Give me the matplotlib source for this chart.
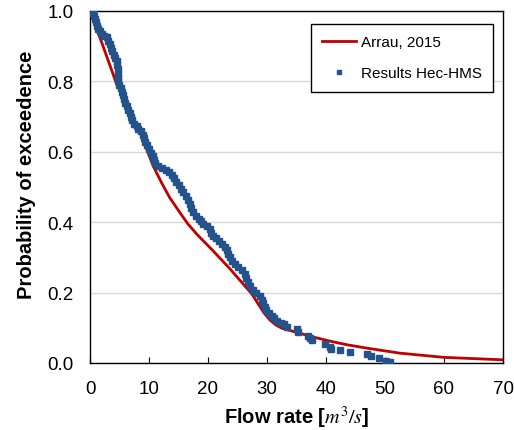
import matplotlib
matplotlib.use("Agg")
import matplotlib.pyplot as plt

# Arrau, 2015 curve
arrau_q = [0.0, 2.0, 4.35, 6.8, 8.5, 9.6, 10.7, 12.1, 13.5, 15.0, 16.6, 18.1, 20.9, 23.7, 26.5,
           27.4, 28.5, 29.5, 30.5, 31.5, 32.5, 35.0, 37.8, 40.7, 43.5, 47.0, 52.5, 60.0, 70.0]
arrau_p = [1.0, 0.91, 0.8, 0.712, 0.655, 0.608, 0.56, 0.513, 0.47, 0.433, 0.395, 0.366, 0.318,
           0.268, 0.214, 0.197, 0.168, 0.142, 0.122, 0.108, 0.099, 0.087, 0.074, 0.062, 0.052,
           0.042, 0.028, 0.016, 0.009]

# Results Hec-HMS
hms_q = [0.3, 0.5, 0.7, 0.85, 1.0, 1.2, 1.4, 1.7, 2.0, 2.4, 2.8, 3.1, 3.4, 3.6, 3.8, 4.0,
         4.3, 4.5, 4.6, 4.7, 4.8, 4.8, 4.8, 4.9, 5.2, 5.4, 5.6, 5.8, 6.0, 6.2, 6.4, 6.7,
         7.0, 7.2, 7.5, 7.9, 8.2, 8.7, 9.0, 9.2, 9.4, 9.7, 10.0, 10.3, 10.6, 10.8, 11.0,
         11.6, 12.2, 12.8, 13.4, 13.9, 14.3, 14.6, 15.0, 15.4, 15.8, 16.3, 16.6, 16.9,
         17.2, 17.5, 17.9, 18.4, 18.8, 19.2, 19.8, 20.3, 20.5, 20.8, 21.3, 21.8, 22.3,
         22.8, 23.2, 23.4, 23.7, 24.1, 24.6, 25.1, 25.7, 26.3, 26.5, 26.8, 27.2, 27.7,
         28.2, 28.8, 29.1, 29.4, 29.6, 29.9, 30.3, 30.8, 31.2, 31.7, 32.3, 32.8, 33.4,
         35.0, 35.3, 37.0, 37.3, 37.7, 39.8, 40.6, 40.8, 42.4, 44.1, 46.9, 47.7, 49.0,
         50.2, 50.8]
hms_p = [1.0, 0.993, 0.985, 0.977, 0.968, 0.958, 0.949, 0.942, 0.935, 0.93, 0.925, 0.916,
         0.906, 0.895, 0.885, 0.875, 0.866, 0.857, 0.846, 0.835, 0.822, 0.81, 0.8, 0.79,
         0.78, 0.77, 0.76, 0.75, 0.74, 0.73, 0.72, 0.71, 0.7, 0.69, 0.68, 0.672, 0.665,
         0.658, 0.648, 0.638, 0.628, 0.618, 0.608, 0.598, 0.588, 0.578, 0.568, 0.56,
         0.553, 0.548, 0.542, 0.535, 0.525, 0.515, 0.505, 0.495, 0.485, 0.475, 0.463,
         0.452, 0.44, 0.428, 0.418, 0.409, 0.402, 0.395, 0.388, 0.38, 0.37, 0.362, 0.355,
         0.348, 0.338, 0.33, 0.32, 0.31, 0.3, 0.29, 0.281, 0.272, 0.263, 0.253, 0.242,
         0.23, 0.218, 0.206, 0.198, 0.19, 0.18, 0.17, 0.16, 0.15, 0.142, 0.134, 0.127,
         0.12, 0.115, 0.11, 0.103, 0.097, 0.088, 0.078, 0.072, 0.064, 0.054, 0.045, 0.04,
         0.037, 0.03, 0.026, 0.019, 0.013, 0.007, 0.002]

x_ticks = [0, 10, 20, 30, 40, 50, 60, 70]
y_ticks = [0.0, 0.2, 0.4, 0.6, 0.8, 1.0]

plt.rcParams['font.family'] = ['Liberation Sans', 'DejaVu Sans']
plt.rcParams['mathtext.fontset'] = 'stix'

fig = plt.figure(figsize=(5.14, 4.31), dpi=100)
ax = fig.add_axes([90/514, 1 - 364/431, 413/514, 352/431])

ax.plot(arrau_q, arrau_p, color='#C00000', lw=2.0, label='Arrau, 2015', zorder=2)
ax.plot(hms_q, hms_p, ls='none', marker='s', ms=4.2, color='#24528A',
        label='Results Hec-HMS', zorder=3)

ax.set_xlim(0, 70)
ax.set_ylim(0, 1.0)
ax.set_xticks(x_ticks)
ax.set_yticks(y_ticks)
ax.set_yticklabels([f'{v:.1f}' for v in y_ticks])
ax.yaxis.grid(True, color='#D9D9D9', lw=1.0)
ax.set_axisbelow(True)
ax.tick_params(axis='x', direction='in', length=4, width=0.8, pad=12, labelsize=13.5, colors='#000000')
ax.tick_params(axis='y', length=0, pad=12, labelsize=13.5)
for s in ax.spines.values():
    s.set_color('#000000')
    s.set_linewidth(1.0)

ax.set_xlabel(r'Flow rate [$m^3/s$]', fontsize=14.5, fontweight='bold', labelpad=5)
ax.set_ylabel('Probability of exceedence', fontsize=14.5, fontweight='bold')
ax.yaxis.set_label_coords(-0.131, 0.537)

leg = ax.legend(loc='upper right', bbox_to_anchor=(0.976, 0.963), borderaxespad=0,
                fontsize=11, frameon=True, fancybox=False, edgecolor='black',
                handlelength=2.2, handletextpad=0.3, labelspacing=1.1,
                borderpad=0.75, markerscale=0.8)
leg.get_frame().set_linewidth(1.0)
leg.get_frame().set_alpha(1)

fig.savefig('out.png', dpi=100)
